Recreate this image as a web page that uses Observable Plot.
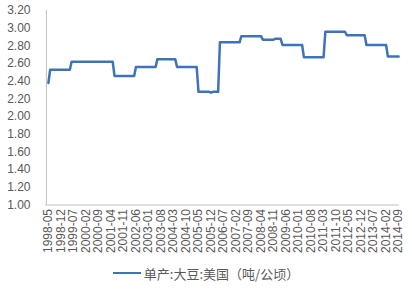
<!DOCTYPE html>
<html><head><meta charset="utf-8">
<script src="https://cdn.jsdelivr.net/npm/d3@7"></script>
<script src="https://cdn.jsdelivr.net/npm/@observablehq/plot@0.6"></script>
<style>
body{margin:0;background:#fff;width:412px;height:290px;overflow:hidden;font-family:"Liberation Sans",Arial,sans-serif;}
#legend{height:22px;display:flex;align-items:center;justify-content:center;font-family:"Noto Sans CJK SC","Liberation Sans",sans-serif;font-size:13px;color:#595959;}
#legend .sw{width:28px;height:0;border-top:2.5px solid #3E73B9;margin-right:3px;}
</style></head><body><div id="chart"></div><div id="legend"></div><script>
const startMonth = "1998-05";
// monthly values, 1998-05 .. 2014-09
const yieldValues = [
  2.38,2.53,2.53,2.53,2.53,2.53,2.53,2.53,                     // 1998 May-Dec
  2.53,2.53,2.53,2.53,2.53,2.62,2.62,2.62,2.62,2.62,2.62,2.62, // 1999
  2.62,2.62,2.62,2.62,2.62,2.62,2.62,2.62,2.62,2.62,2.62,2.62, // 2000
  2.62,2.62,2.62,2.62,2.62,2.46,2.46,2.46,2.46,2.46,2.46,2.46, // 2001
  2.46,2.46,2.46,2.46,2.46,2.56,2.56,2.56,2.56,2.56,2.56,2.56, // 2002
  2.56,2.56,2.56,2.56,2.56,2.65,2.65,2.65,2.65,2.65,2.65,2.65, // 2003
  2.65,2.65,2.65,2.65,2.56,2.56,2.56,2.56,2.56,2.56,2.56,2.56, // 2004
  2.56,2.56,2.56,2.56,2.28,2.28,2.28,2.28,2.28,2.28,2.28,2.27, // 2005
  2.28,2.28,2.28,2.28,2.84,2.84,2.84,2.84,2.84,2.84,2.84,2.84, // 2006
  2.84,2.84,2.84,2.84,2.91,2.91,2.91,2.91,2.91,2.91,2.91,2.91, // 2007
  2.91,2.91,2.91,2.91,2.87,2.87,2.87,2.87,2.87,2.87,2.87,2.88, // 2008
  2.88,2.88,2.88,2.81,2.81,2.81,2.81,2.81,2.81,2.81,2.81,2.81, // 2009
  2.81,2.81,2.81,2.67,2.67,2.67,2.67,2.67,2.67,2.67,2.67,2.67, // 2010
  2.67,2.67,2.67,2.96,2.96,2.96,2.96,2.96,2.96,2.96,2.96,2.96, // 2011
  2.96,2.96,2.96,2.92,2.92,2.92,2.92,2.92,2.92,2.92,2.92,2.92, // 2012
  2.92,2.92,2.81,2.81,2.81,2.81,2.81,2.81,2.81,2.81,2.81,2.81, // 2013
  2.81,2.81,2.68,2.68,2.68,2.68,2.68,2.68,2.68                 // 2014 Jan-Sep
];
const xTickLabels = ["1998-05","1998-12","1999-07","2000-02","2000-09","2001-04","2001-11","2002-06","2003-01","2003-08","2004-03","2004-10","2005-05","2005-12","2006-07","2007-02","2007-09","2008-04","2008-11","2009-06","2010-01","2010-08","2011-03","2011-10","2012-05","2012-12","2013-07","2014-02","2014-09"];
const yTicks = [1.00,1.20,1.40,1.60,1.80,2.00,2.20,2.40,2.60,2.80,3.00,3.20];
const seriesName = "单产:大豆:美国（吨/公顷）";
const lineColor = "#3E73B9";

const fmt = d3.utcFormat("%Y-%m");
const start = d3.utcParse("%Y-%m")(startMonth);
const months = yieldValues.map((_, i) => fmt(d3.utcMonth.offset(start, i)));
const data = months.map((m, i) => ({month: m, value: yieldValues[i]}));

const chart = Plot.plot({
  width: 412, height: 262,
  marginTop: 10, marginBottom: 57.5, marginLeft: 45, marginRight: 13,
  style: {fontFamily: '"Liberation Sans", Arial, sans-serif', fontSize: "12px", color: "#595959", background: "white"},
  x: {type: "point", domain: months, insetLeft: 2, ticks: xTickLabels, tickRotate: -90, tickSize: 0, tickPadding: 4, label: null},
  y: {domain: [1, 3.2], ticks: yTicks, tickFormat: d => d.toFixed(2), tickSize: 0, tickPadding: 15, label: null},
  marks: [
    Plot.ruleY([1], {stroke: "#bfbfbf"}),
    Plot.ruleX([months[0]], {dx: -2, stroke: "#bfbfbf"}),
    Plot.lineY(data, {x: "month", y: "value", stroke: lineColor, strokeWidth: 2.5})
  ]
});
document.getElementById("chart").appendChild(chart);
const lg = document.getElementById("legend");
lg.innerHTML = `<span class="sw"></span><span></span>`;
lg.lastChild.textContent = seriesName;
</script></body></html>
